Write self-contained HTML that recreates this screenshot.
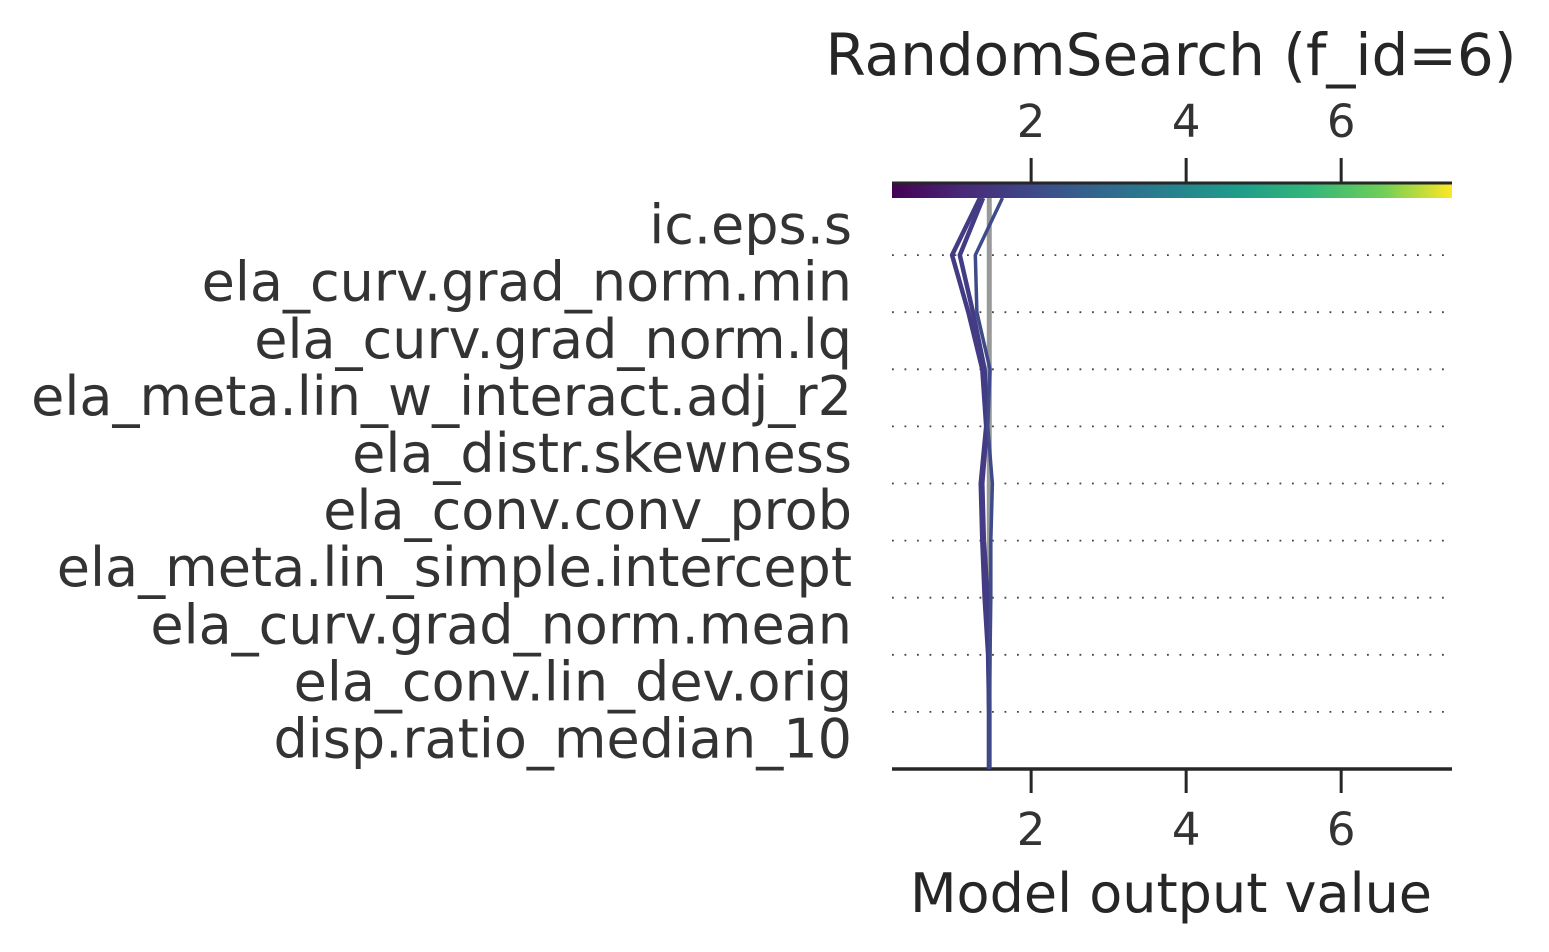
<!DOCTYPE html>
<html><head><meta charset="utf-8"><style>
html,body{margin:0;padding:0;background:#fff;}
svg{display:block;font-family:"DejaVu Sans","Liberation Sans",sans-serif;}
</style></head><body>
<svg id="chart" width="1549" height="952" viewBox="0 0 1549 952">
<defs>
<linearGradient id="vir" x1="0" x2="1" y1="0" y2="0">
<stop offset="0" stop-color="#440154"/><stop offset="0.125" stop-color="#482878"/>
<stop offset="0.25" stop-color="#3e4989"/><stop offset="0.375" stop-color="#31688e"/>
<stop offset="0.5" stop-color="#26828e"/><stop offset="0.625" stop-color="#1f9e89"/>
<stop offset="0.75" stop-color="#35b779"/><stop offset="0.875" stop-color="#6ece58"/>
<stop offset="1" stop-color="#fde725"/>
</linearGradient>
</defs>
<text x="1171" y="75" text-anchor="middle" font-size="58" fill="#262626">RandomSearch (f_id=6)</text>
<g id="grid"></g>
<rect x="892" y="184" width="560" height="14" fill="url(#vir)"/>
<g id="axes"></g>
<g id="lines"></g>
<text x="1171" y="912" text-anchor="middle" font-size="54" fill="#262626">Model output value</text>
</svg>
<script>
const features = ["ic.eps.s","ela_curv.grad_norm.min","ela_curv.grad_norm.lq","ela_meta.lin_w_interact.adj_r2","ela_distr.skewness","ela_conv.conv_prob","ela_meta.lin_simple.intercept","ela_curv.grad_norm.mean","ela_conv.lin_dev.orig","disp.ratio_median_10"];
const xTicks = [2,4,6];
const baseValue = 1.46;
const seriesA = [1.458,1.458,1.445,1.40,1.37,1.35,1.42,1.37,1.19,0.98,1.34];
const seriesB = [1.458,1.458,1.45,1.44,1.39,1.37,1.43,1.40,1.25,1.08,1.38];
const seriesC = [1.458,1.46,1.47,1.48,1.48,1.50,1.44,1.47,1.30,1.28,1.63];

const NS="http://www.w3.org/2000/svg";
const x0=892,x1=1452,vmin=0.205,vmax=7.43;
const X=v=>x0+(v-vmin)/(vmax-vmin)*(x1-x0);
const yTop=198,yBot=769;
const n=features.length;
const step=(yBot-yTop)/n;
const Ypt=i=>yBot-i*step;
function mk(tag,attrs,parent){const e=document.createElementNS(NS,tag);for(const k in attrs)e.setAttribute(k,attrs[k]);parent.appendChild(e);return e;}
const grid=document.getElementById('grid'),axes=document.getElementById('axes'),lines=document.getElementById('lines'),svg=document.getElementById('chart');
for(let i=1;i<n;i++){
 const y=Ypt(i);
 const l=mk('line',{x1:x0,x2:x1,y1:y,y2:y,stroke:'#444','stroke-width':1.8,'stroke-dasharray':'1.8 10.7'},grid);
 
 
}
features.forEach((f,k)=>{
 const y=yTop+step*(k+0.5);
 const t=mk('text',{x:852,y:y+17,'text-anchor':'end','font-size':54,fill:'#333'},svg);
 t.textContent=f;
 
 
});
const bl=mk('line',{x1:X(baseValue),x2:X(baseValue),y1:yTop,y2:yBot,stroke:'#999','stroke-width':5},grid);


let a=mk('line',{x1:x0,x2:x1,y1:183,y2:183,stroke:'#262626','stroke-width':3},axes);


a=mk('line',{x1:x0,x2:x1,y1:769,y2:769,stroke:'#262626','stroke-width':3.5},axes);


xTicks.forEach(v=>{
 const x=X(v);
 let t=mk('line',{x1:x,x2:x,y1:158,y2:183,stroke:'#262626','stroke-width':3},axes);
 
 
 t=mk('line',{x1:x,x2:x,y1:769,y2:793,stroke:'#262626','stroke-width':3},axes);
 
 
 let tx=mk('text',{x:x,y:137,'text-anchor':'middle','font-size':45,fill:'#333'},axes);
 tx.textContent=v;
 
 
 tx=mk('text',{x:x,y:845,'text-anchor':'middle','font-size':45,fill:'#333'},axes);
 tx.textContent=v;
 
 
});
[[seriesA,'#433c84',4.5],[seriesB,'#433c84',4.5],[seriesC,'#3f4a8a',3.5]].forEach(([s,c,w])=>{
 const pts=s.map((v,i)=>X(v)+','+Ypt(i)).join(' ');
 const p=mk('polyline',{points:pts,fill:'none',stroke:c,'stroke-width':w,'stroke-linejoin':'round'},lines);
 
 
});
</script>
</body></html>
